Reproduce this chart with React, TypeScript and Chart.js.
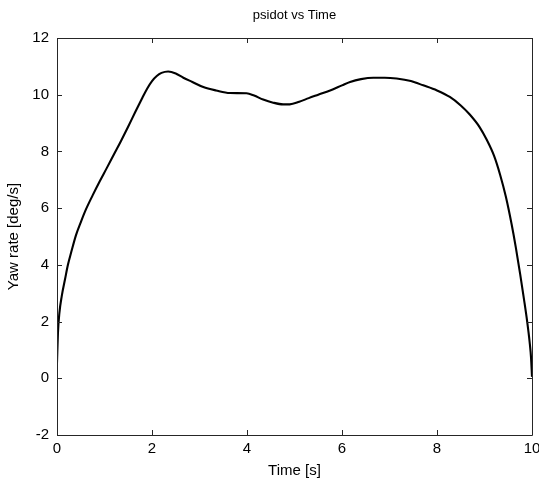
import React, { useEffect, useRef } from "react";
import { Chart, registerables } from "chart.js";

Chart.register(...registerables);

const timeS: number[] = [
  0, 0.02, 0.05, 0.1, 0.17, 0.23, 0.3, 0.4, 0.5, 0.6, 0.75, 0.9, 1.05, 1.2, 1.35,
  1.5, 1.65, 1.8, 1.9, 2.0, 2.1, 2.2, 2.34, 2.5, 2.66, 2.85, 3.08, 3.35, 3.64, 3.99,
  4.15, 4.34, 4.55, 4.76, 4.9, 5.1, 5.3, 5.5, 5.75, 6.0, 6.17, 6.4, 6.66, 6.9, 7.15,
  7.45, 7.71, 8.0, 8.27, 8.5, 8.69, 8.9, 9.05, 9.2, 9.33, 9.45, 9.57, 9.66, 9.75,
  9.83, 9.9, 9.95, 9.98, 10.0,
];
const psidot: number[] = [
  0.55, 1.6, 2.3, 2.9, 3.5, 4.0, 4.45, 5.05, 5.5, 5.92, 6.45, 6.95, 7.42, 7.9, 8.38,
  8.88, 9.4, 9.9, 10.22, 10.48, 10.66, 10.77, 10.82, 10.75, 10.6, 10.45, 10.27,
  10.15, 10.06, 10.05, 9.97, 9.83, 9.72, 9.66, 9.66, 9.75, 9.88, 10.0, 10.15, 10.33,
  10.45, 10.55, 10.6, 10.6, 10.57, 10.48, 10.33, 10.15, 9.92, 9.62, 9.3, 8.85,
  8.4, 7.85, 7.17, 6.4, 5.44, 4.61, 3.68, 2.8, 1.98, 1.28, 0.72, 0.05,
];
const xTicks: number[] = [0, 2, 4, 6, 8, 10];
const yTicks: number[] = [-2, 0, 2, 4, 6, 8, 10, 12];
const chartTitle = "psidot vs Time";
const xLabel = "Time [s]";
const yLabel = "Yaw rate [deg/s]";

const FONT = "'Liberation Sans', Arial, Helvetica, sans-serif";

const framePlugin = {
  id: "matlabFrame",
  afterDraw(chart: any) {
    const { ctx, chartArea } = chart;
    const { left, right, top, bottom } = chartArea;
    const xs = chart.scales.x;
    const ys = chart.scales.y;
    ctx.save();
    ctx.strokeStyle = "#262626";
    ctx.lineWidth = 1;
    ctx.beginPath();
    ctx.rect(Math.round(left) + 0.5, Math.round(top) + 0.5, Math.round(right - left), Math.round(bottom - top));
    ctx.stroke();
    const tl = 5;
    ctx.beginPath();
    for (const v of xTicks) {
      const px = Math.round(xs.getPixelForValue(v)) + 0.5;
      ctx.moveTo(px, bottom);
      ctx.lineTo(px, bottom - tl);
      ctx.moveTo(px, top);
      ctx.lineTo(px, top + tl);
    }
    for (const v of yTicks) {
      const py = Math.round(ys.getPixelForValue(v)) + 0.5;
      ctx.moveTo(left, py);
      ctx.lineTo(left + tl, py);
      ctx.moveTo(right, py);
      ctx.lineTo(right - tl, py);
    }
    ctx.stroke();

    ctx.fillStyle = "#000";
    ctx.textAlign = "center";
    ctx.textBaseline = "middle";
    ctx.font = `13px ${FONT}`;
    ctx.fillText(chartTitle, (left + right) / 2, 15);
    ctx.font = `15px ${FONT}`;
    ctx.fillText(xLabel, (left + right) / 2, 471);
    ctx.translate(14, (top + bottom) / 2);
    ctx.rotate(-Math.PI / 2);
    ctx.fillText(yLabel, 0, 0);
    ctx.restore();
  },
};

export default function App() {
  const canvasRef = useRef<HTMLCanvasElement | null>(null);

  useEffect(() => {
    const canvas = canvasRef.current;
    if (!canvas) return;
    const points = timeS.map((t, i) => ({ x: t, y: psidot[i] }));
    const chart = new Chart(canvas, {
      type: "line",
      data: {
        datasets: [
          {
            data: points,
            borderColor: "#000000",
            borderWidth: 2.1,
            pointRadius: 0,
            fill: false,
            cubicInterpolationMode: "monotone",
          },
        ],
      },
      options: {
        animation: false,
        responsive: false,
        devicePixelRatio: 1,
        layout: { padding: { top: 38, right: 7, left: 0, bottom: 0 } },
        plugins: {
          legend: { display: false },
          tooltip: { enabled: false },
          title: { display: false },
        },
        scales: {
          x: {
            type: "linear",
            min: 0,
            max: 10,
            grid: { display: false, drawTicks: false },
            border: { display: false },
            afterBuildTicks: (scale: any) => {
              scale.ticks = xTicks.map((v) => ({ value: v }));
            },
            ticks: {
              color: "#000",
              font: { family: FONT, size: 15 },
              padding: 5,
              maxRotation: 0,
              autoSkip: false,
            },
            afterFit: (scale: any) => {
              scale.height = 49;
              scale.paddingLeft = 0;
              scale.paddingRight = 0;
            },
          },
          y: {
            type: "linear",
            min: -2,
            max: 12,
            grid: { display: false, drawTicks: false },
            border: { display: false },
            afterBuildTicks: (scale: any) => {
              scale.ticks = yTicks.map((v) => ({ value: v }));
            },
            ticks: {
              color: "#000",
              font: { family: FONT, size: 15 },
              padding: 8,
              autoSkip: false,
            },
            afterFit: (scale: any) => {
              scale.width = 57;
              scale.paddingTop = 0;
              scale.paddingBottom = 0;
            },
          },
        },
      },
      plugins: [framePlugin],
    });
    return () => chart.destroy();
  }, []);

  return (
    <canvas
      ref={canvasRef}
      width={539}
      height={484}
      style={{ position: "absolute", left: 0, top: 0, width: 539, height: 484, display: "block" }}
    />
  );
}
